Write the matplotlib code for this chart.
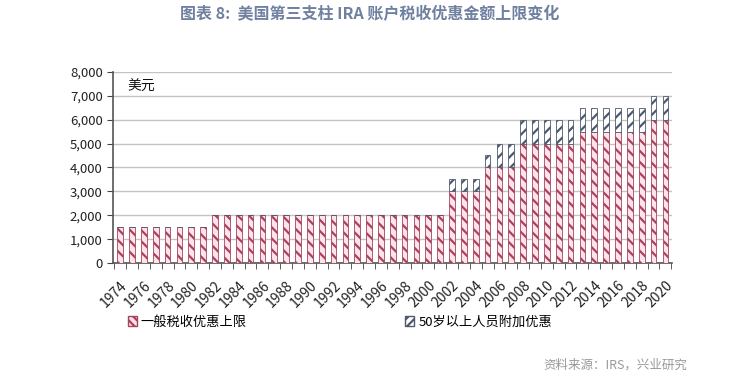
import matplotlib
matplotlib.use("Agg")
import matplotlib.pyplot as plt
from matplotlib.patches import Patch
import numpy as np

plt.rcParams['font.family'] = ['Noto Sans CJK SC', 'DejaVu Sans']
plt.rcParams['hatch.linewidth'] = 1.6

years = list(range(1974, 2021))
base_limit = ([1500] * 8 + [2000] * 20 + [3000] * 3 + [4000] * 3 +
              [5000] * 5 + [5500] * 6 + [6000] * 2)
catch_up = ([0] * 28 + [500] * 4 + [1000] * 15)
yticks = [0, 1000, 2000, 3000, 4000, 5000, 6000, 7000, 8000]
series_names = ["一般税收优惠上限", "50岁以上人员附加优惠"]

fig = plt.figure(figsize=(7.39, 3.78), dpi=100)
ax = fig.add_axes([0.153, 0.304, 0.757, 0.506])

x = np.arange(len(years))
c_base_edge = "#a8435e"
c_base_fill = "#fde3ea"
c_cu_edge = "#4d5a6e"
c_cu_fill = "#ffffff"

ax.bar(x, base_limit, width=0.48, color=c_base_fill, edgecolor=c_base_edge,
       hatch="\\\\\\", linewidth=0.6, zorder=3)
ax.bar(x, catch_up, bottom=base_limit, width=0.48, color=c_cu_fill,
       edgecolor=c_cu_edge, hatch="///", linewidth=0.6, zorder=3)

ax.set_xlim(-0.6, len(years) - 0.4)
ax.set_ylim(0, 8000)
ax.set_yticks(yticks)
ax.set_yticklabels([f"{v:,}" for v in yticks], fontsize=9.5, color="#222222")
ax.yaxis.grid(True, color="#c4c4c4", linewidth=1.0, zorder=0)

ax.set_xticks(x[::2])
ax.set_xticklabels([str(y) for y in years[::2]], rotation=45, fontsize=10,
                   ha="right", rotation_mode="anchor", color="#222222")
ax.set_xticks(np.arange(-0.5, len(years), 1), minor=True)
ax.tick_params(axis="x", which="major", length=0, pad=11)
ax.tick_params(axis="x", which="minor", length=4, color="#444444", direction="out")
ax.tick_params(axis="y", length=4, color="#444444", direction="out")

for s in ["top", "right"]:
    ax.spines[s].set_visible(False)
for s in ["left", "bottom"]:
    ax.spines[s].set_color("#555555")
    ax.spines[s].set_linewidth(1.2)

ax.text(0.025, 0.96, "美元", transform=ax.transAxes, fontsize=10,
        va="top", ha="left", color="#111111")

handles = [Patch(facecolor=c_base_fill, edgecolor=c_base_edge, hatch="\\\\\\\\"),
           Patch(facecolor=c_cu_fill, edgecolor=c_cu_edge, hatch="////")]
fig.legend(handles, series_names, loc="center", bbox_to_anchor=(0.46, 0.148),
           ncol=2, frameon=False, fontsize=9.5, handlelength=0.7,
           handleheight=0.7, handletextpad=0.3, columnspacing=12)

fig.text(0.5, 0.962, "图表 8:  美国第三支柱 IRA 账户税收优惠金额上限变化",
         ha="center", va="center", fontsize=11.5, color="#7080a0",
         fontweight="bold")
fig.text(0.93, 0.035, "资料来源：IRS，兴业研究", ha="right", va="center",
         fontsize=9, color="#999999")

fig.savefig("out.png", dpi=100)
